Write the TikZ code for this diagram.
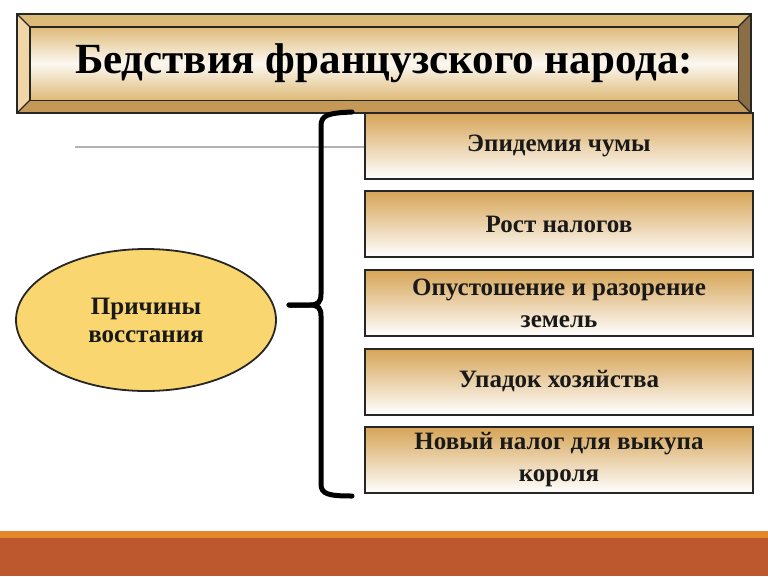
\documentclass[tikz,border=0pt]{standalone}
\usepackage{fontspec}
\setmainfont{Liberation Serif}
\usepackage{xcolor}
\usetikzlibrary{positioning, shapes.geometric}

\definecolor{boxtan}{RGB}{214,164,86}
\definecolor{frametop}{RGB}{222,186,120}
\definecolor{frameleft}{RGB}{240,214,166}
\definecolor{framebot}{RGB}{196,152,86}
\definecolor{frameright}{RGB}{140,110,70}
\definecolor{ovalfill}{RGB}{249,214,112}
\definecolor{stripe}{RGB}{226,136,40}
\definecolor{band}{RGB}{189,88,46}

\begin{document}
\begin{tikzpicture}[x=1pt, y=-1pt,
        cause/.style={rectangle, draw=black!85, line width=2pt, top color=boxtan,
          bottom color=white, minimum width=388pt, minimum height=66pt,
          align=center, font=\fontsize{25}{32}\selectfont\bfseries, text=black!90},
        oval/.style={ellipse, draw=black!85, line width=1.8pt, fill=ovalfill,
          minimum width=260pt, minimum height=142pt, inner sep=0pt,
          align=center, font=\fontsize{25}{28}\selectfont\bfseries, text=black!90},
        heading/.style={rectangle, minimum width=708pt, minimum height=73pt,
          top color=frametop, bottom color=frametop, middle color=white!90!frametop,
          font=\fontsize{43}{50}\selectfont\bfseries},
        brace/.style={line width=5pt, line cap=round}]

        \useasboundingbox (0,0) rectangle (768,576);

        % bottom bands
        \fill[band]   (0,538) rectangle (768,576);
        \fill[stripe] (0,531) rectangle (768,538);

        % grey rule behind the boxes
        \coordinate (rulestart) at (75,147);
        \coordinate (ruleend)   at (365,147);
        \draw[black!30, line width=1.5pt] (rulestart) -- (ruleend);

        % title frame
        \coordinate (onw) at (17,14);
        \coordinate (one) at (751,14);
        \coordinate (ose) at (751,113);
        \coordinate (osw) at (17,113);
        \node[heading] (title) at (384,63.5) {Бедствия французского народа:};
        \fill[frametop]   (onw) -- (one) -- (title.north east) -- (title.north west) -- cycle;
        \fill[framebot]   (osw) -- (ose) -- (title.south east) -- (title.south west) -- cycle;
        \fill[frameleft]  (onw) -- (osw) -- (title.south west) -- (title.north west) -- cycle;
        \fill[frameright] (one) -- (ose) -- (title.south east) -- (title.north east) -- cycle;
        \draw[black!85, line width=1.4pt] (title.north west) rectangle (title.south east);
        \draw[black!85, line width=1.2pt] (onw) -- (title.north west) (one) -- (title.north east)
          (ose) -- (title.south east) (osw) -- (title.south west);
        \draw[black!85, line width=2.2pt] (onw) rectangle (ose);

        % reasons
        \node[oval]  (reasons) at (146,320)   {Причины\\восстания};
        \node[cause] (plague)  at (559,145.5) {Эпидемия чумы};
        \node[cause] (taxes)   at (559,224)   {Рост налогов};
        \node[cause] (ruin)    at (559,303)   {Опустошение и разорение\\земель};
        \node[cause] (decline) at (559,381.5) {Упадок хозяйства};
        \node[cause] (ransom)  at (559,460)   {Новый налог для выкупа\\короля};

        % brace
        \coordinate (bracetop) at (352,112);
        \coordinate (bracebot) at (352,496);
        \coordinate (bracetip) at (289,305);
        \draw[brace] (bracetop) .. controls (328,113) and (321,115) .. (321,126)
          -- (321,294) .. controls (321,302) and (318,305) .. (310,305) -- (bracetip);
        \draw[brace] (bracetip) -- (310,305) .. controls (318,305) and (321,308) .. (321,316)
          -- (321,484) .. controls (321,494) and (328,496) .. (bracebot);
\end{tikzpicture}
\end{document}
